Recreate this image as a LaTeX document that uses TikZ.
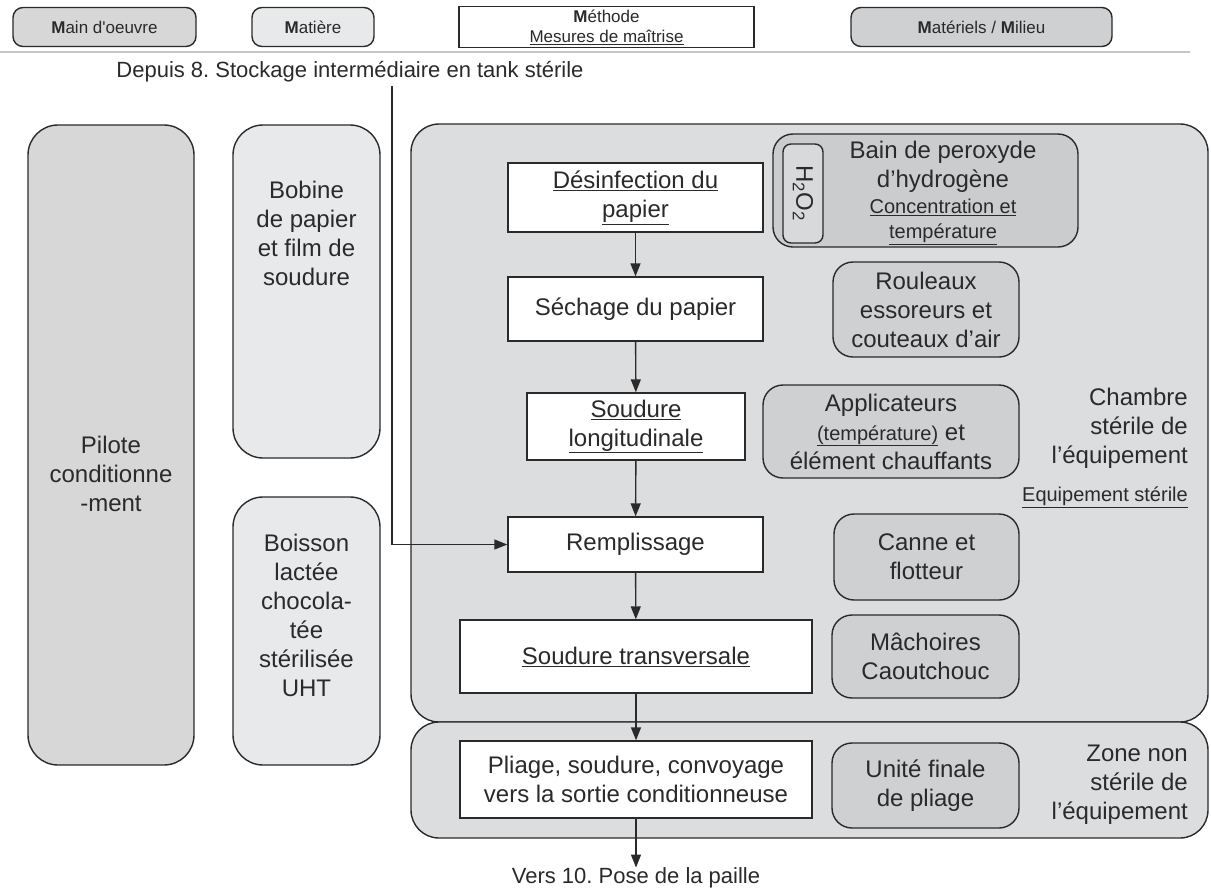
\documentclass[tikz,border=0pt]{standalone}
\usepackage{fontspec}
\setmainfont{Liberation Sans}
\usetikzlibrary{arrows.meta}
\definecolor{zonefill}{HTML}{DCDDDF}
\definecolor{pilotfill}{HTML}{D7D7D7}
\definecolor{matfill}{HTML}{E8E9EA}
\definecolor{toolfill}{HTML}{CFD0D1}
\definecolor{bathfill}{HTML}{CBCCCD}
\definecolor{hydfill}{HTML}{D8D9DA}
\definecolor{inkgray}{HTML}{2A2A2A}
\definecolor{rulegray}{HTML}{C6C6C6}
\newcommand{\smallul}[1]{{\fontsize{20}{24}\selectfont\underline{#1}}}
\frenchspacing

\tikzset{
  txt/.style={align=center, text=inkgray, font=\fontsize{24}{29}\selectfont, inner sep=0pt},
  outtxt/.style={txt, font=\fontsize{22}{26}\selectfont},
  toptxt/.style={txt, font=\fontsize{17}{20}\selectfont},
  frame/.style={draw=inkgray, line width=1.4pt},
  headbox/.style={toptxt, frame, rounded corners=10pt, minimum height=39pt},
  zonebox/.style={frame, fill=zonefill, rounded corners=28pt},
  colbox/.style={frame, rounded corners=30pt},
  stepbox/.style={txt, frame, fill=white},
  toolbox/.style={txt, frame, fill=toolfill, rounded corners=20pt},
  flow/.style={draw=inkgray, line width=1.4pt, -{Triangle[length=13pt,width=10pt]}},
}

\begin{document}
\begin{tikzpicture}[x=1pt, y=-1pt]
  \useasboundingbox (0,0) rectangle (1211,892);

  % 5M header
  \node[headbox, fill=pilotfill, minimum width=183pt] (mo) at (104.5,27) {\textbf{M}ain d\textquotesingle oeuvre};
  \node[headbox, fill=matfill, minimum width=122pt] (mat) at (313,27) {\textbf{M}atière};
  \node[toptxt, frame, fill=white, minimum width=295pt, minimum height=41pt] (meth) at (606.5,27)
    {\textbf{M}éthode\\\underline{Mesures de maîtrise}};
  \node[headbox, fill=toolfill, minimum width=261pt] (matl) at (981.5,27) {\textbf{M}atériels / \textbf{M}ilieu};
  \draw[rulegray, line width=2.5pt] (0,52) -- (1190,52);

  % zones
  \node[zonebox, minimum width=797pt, minimum height=598pt] (chamber) at (809.5,423) {};
  \node[zonebox, minimum width=797pt, minimum height=116pt] (lowzone) at (809.5,780) {};

  % colonnes de gauche
  \node[colbox, fill=pilotfill, minimum width=166pt, minimum height=640pt] (pilot) at (111,445) {};
  \node[txt] (piltxt) at (111,474) {Pilote\\conditionne\\-ment};
  \node[colbox, fill=matfill, minimum width=147pt, minimum height=333pt] (bobine) at (306.5,291.5) {};
  \node[txt] (bobtxt) at (306.5,233) {Bobine\\de papier\\et film de\\soudure};
  \node[colbox, fill=matfill, minimum width=147pt, minimum height=268pt] (boisson) at (306.5,631) {};
  \node[txt] (boitxt) at (306.5,615) {Boisson\\lactée\\chocola-\\tée\\stérilisée\\UHT};

  % etapes
  \node[outtxt] (src) at (350,72) {Depuis 8. Stockage intermédiaire en tank stérile};
  \coordinate (drop) at (392,86);
  \node[stepbox, minimum width=255pt, minimum height=69pt] (dis) at (635.5,197.5)
    {\underline{Désinfection du}\\\underline{papier}};
  \node[stepbox, minimum width=255pt, minimum height=64pt] (sech) at (635.5,309) {Séchage du papier};
  \node[stepbox, minimum width=218pt, minimum height=67pt] (soudl) at (636,426.5)
    {\underline{Soudure}\\\underline{longitudinale}};
  \node[stepbox, minimum width=255pt, minimum height=55pt] (remp) at (635.5,544.5) {Remplissage};
  \node[stepbox, minimum width=352pt, minimum height=73pt] (soudt) at (636,656.5)
    {\underline{Soudure transversale}};
  \node[stepbox, minimum width=352pt, minimum height=77pt] (pli) at (636,779.5)
    {Pliage, soudure, convoyage\\vers la sortie conditionneuse};
  \node[outtxt] (dest) at (636,878) {Vers 10. Pose de la paille};

  % equipements
  \node[toolbox, fill=bathfill, minimum width=305pt, minimum height=113pt] (bain) at (925.5,190.5) {};
  \node[txt, frame, fill=hydfill, rounded corners=8pt, rotate=-90, minimum width=99pt, minimum height=40pt]
    (hyd) at (803,193.5) {H\textsubscript{2}O\textsubscript{2}};
  \node[txt] (baintxt) at (943,193)
    {Bain de peroxyde\\d’hydrogène\\[-3pt]\smallul{Concentration et}\\[-4pt]\smallul{température}};
  \node[toolbox, minimum width=186pt, minimum height=95pt] (roul) at (926,309.5)
    {Rouleaux\\essoreurs et\\couteaux d’air};
  \node[toolbox, minimum width=256pt, minimum height=93pt] (appl) at (891,431.5)
    {Applicateurs\\\smallul{(température)} et\\élément chauffants};
  \node[toolbox, minimum width=185pt, minimum height=86pt] (canne) at (926.5,557) {Canne et\\flotteur};
  \node[toolbox, minimum width=187pt, minimum height=83pt] (mach) at (925.5,656.5) {Mâchoires\\Caoutchouc};
  \node[toolbox, minimum width=187pt, minimum height=85pt] (unite) at (925.5,785.5) {Unité finale\\de pliage};

  \node[txt, align=right, anchor=east] (chtxt) at (1188,428) {Chambre\\stérile de\\l’équipement};
  \node[txt, anchor=east] (eqtxt) at (1188,497) {\smallul{Equipement stérile}};
  \node[txt, align=right, anchor=east] (zntxt) at (1188,785) {Zone non\\stérile de\\l’équipement};

  % fleches
  \draw[flow] (drop) |- (remp.west);
  \draw[flow] (dis) -- (sech);
  \draw[flow] (sech) -- (soudl);
  \draw[flow] (soudl) -- (remp);
  \draw[flow] (remp) -- (soudt);
  \draw[flow] (soudt) -- (pli);
  \draw[flow] (pli) -- (dest);
\end{tikzpicture}
\end{document}
